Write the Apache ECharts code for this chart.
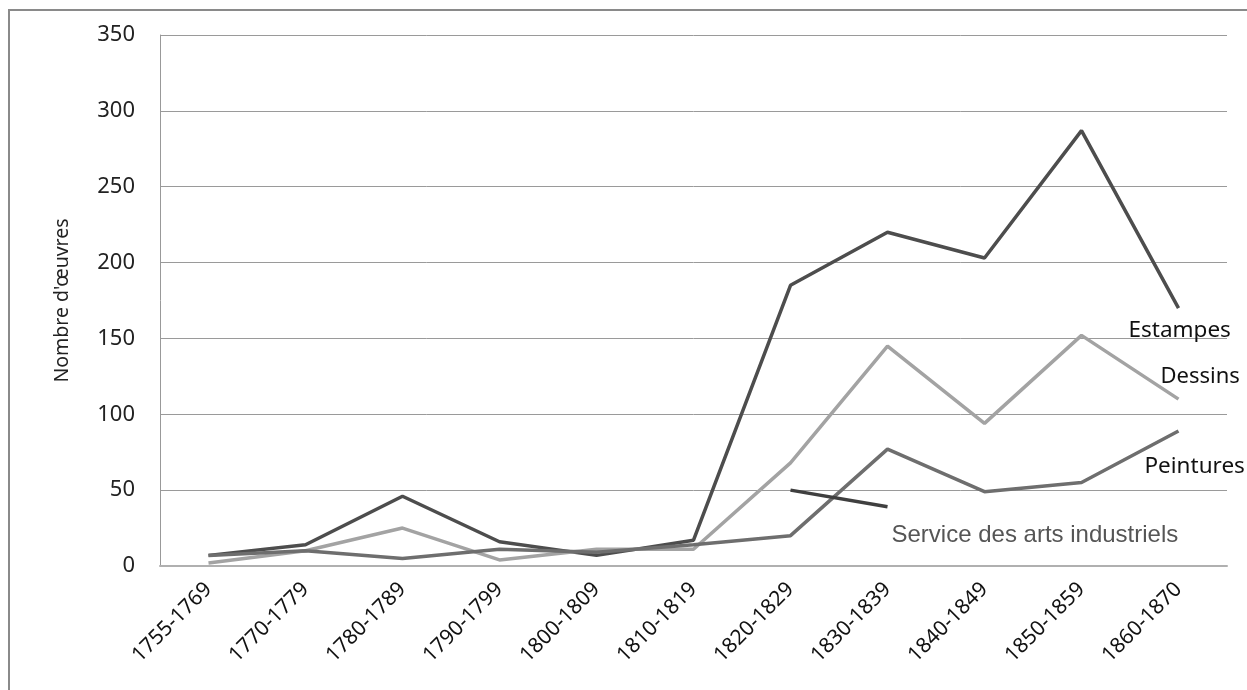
<!DOCTYPE html>
<html><head><meta charset="utf-8">
<script src="https://cdn.jsdelivr.net/npm/echarts@6/dist/echarts.min.js"></script>
<style>html,body{margin:0;padding:0;background:#fff}#c{width:1247px;height:690px}</style>
</head><body><div id="c"></div>
<script>
const categories = ['1755-1769','1770-1779','1780-1789','1790-1799','1800-1809','1810-1819','1820-1829','1830-1839','1840-1849','1850-1859','1860-1870'];
const estampes = [7,14,46,16,7,17,185,220,203,287,170];
const dessins = [2,10,25,4,11,11,68,145,94,152,110];
const peintures = [7,10,5,11,9,14,20,77,49,55,89];
const service = [null,null,null,null,null,null,50,39,null,null,null];
const yTicks = {min:0, max:350, interval:50};

const chart = echarts.init(document.getElementById('c'));
const lbl = (off, font, size, color) => ({show:true, formatter:'{a}', offset:off, fontFamily:font, fontSize:size, color:color});
chart.setOption({
  animation:false,
  graphic:[{type:'rect', shape:{x:9,y:10,width:1260,height:700}, style:{fill:'none', stroke:'#8a8a8a', lineWidth:2}}],
  grid:{left:160, right:20, top:35, bottom:124},
  xAxis:{type:'category', data:categories, boundaryGap:true,
    axisLine:{lineStyle:{color:'#b0b0b0', width:2}}, axisTick:{show:false},
    axisLabel:{rotate:45, fontFamily:'Noto Sans', fontSize:21, color:'#111', margin:20}},
  yAxis:{type:'value', min:yTicks.min, max:yTicks.max, interval:yTicks.interval,
    name:"Nombre d'œuvres", nameLocation:'middle', nameGap:88,
    nameTextStyle:{fontFamily:'Noto Sans', fontSize:19.5, color:'#222'},
    axisLine:{show:true, lineStyle:{color:'#999'}}, axisTick:{show:false},
    splitLine:{lineStyle:{color:'#9a9a9a', width:1}},
    axisLabel:{fontFamily:'Noto Sans', fontSize:22, color:'#222', margin:25}},
  series:[
    {name:'Estampes', type:'line', data:estampes, symbol:'none', lineStyle:{color:'#4d4d4d', width:3.5}, itemStyle:{color:'#4d4d4d'},
      endLabel:lbl([-58,23],'Noto Sans',22.5,'#111')},
    {name:'Dessins', type:'line', data:dessins, symbol:'none', lineStyle:{color:'#a3a3a3', width:3.5}, itemStyle:{color:'#a3a3a3'},
      endLabel:lbl([-26,-22],'Noto Sans',22,'#111')},
    {name:'Peintures', type:'line', data:peintures, symbol:'none', lineStyle:{color:'#6e6e6e', width:3.5}, itemStyle:{color:'#6e6e6e'},
      endLabel:lbl([-42,36],'Noto Sans',22.5,'#111')},
    {name:'Service des arts industriels', type:'line', data:service, symbol:'none', lineStyle:{color:'#3f3f3f', width:3.5}, itemStyle:{color:'#3f3f3f'},
      endLabel:lbl([-4,29],'Liberation Sans',24,'#555')}
  ]
});
</script></body></html>
